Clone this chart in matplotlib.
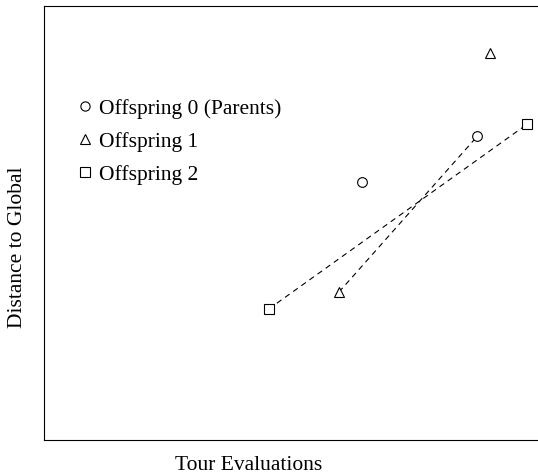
import matplotlib
matplotlib.use("Agg")
import matplotlib.pyplot as plt

# data (arbitrary units, no ticks in the original)
off0_x = [64.4, 87.7]
off0_y = [59.4, 70.0]
off1_x = [90.3, 59.7]
off1_y = [89.2, 34.1]
off2_x = [45.5, 97.8]
off2_y = [30.2, 72.8]
# dashed connectors
link_a_x = [45.5, 97.8]
link_a_y = [30.2, 72.8]
link_b_x = [59.7, 87.7]
link_b_y = [34.1, 70.0]

plt.rcParams['font.family'] = ['Liberation Serif', 'DejaVu Serif']

fig = plt.figure(figsize=(5.38, 4.76), dpi=100)
ax = fig.add_axes([0.0818, 0.0756, 0.9182, 0.9114])

ax.plot(link_a_x, link_a_y, ls=(0, (5, 4)), color="black", lw=0.8)
ax.plot(link_b_x, link_b_y, ls=(0, (5, 4)), color="black", lw=0.8)

mk = dict(ls="none", mfc="white", mec="black", mew=0.8, ms=7)
ax.plot(off0_x, off0_y, marker="o", label="Offspring 0 (Parents)", **mk)
ax.plot(off1_x, off1_y, marker="^", label="Offspring 1", **mk)
ax.plot(off2_x, off2_y, marker="s", label="Offspring 2", **mk)

ax.set_xlim(0, 100)
ax.set_ylim(0, 100)
ax.set_xticks([]); ax.set_yticks([])
ax.spines["right"].set_visible(False)
for s in ["left", "top", "bottom"]:
    ax.spines[s].set_linewidth(0.8)

ax.set_xlabel("Tour Evaluations", fontsize=15.5)
ax.set_ylabel("Distance to Global", fontsize=15.5)
ax.xaxis.set_label_coords(0.414, -0.058)
ax.yaxis.set_label_coords(-0.054, 0.445)
ax.xaxis.label.set_va("center")
ax.yaxis.label.set_va("center")

ax.legend(loc="upper left", bbox_to_anchor=(0.035, 0.822), frameon=False,
          fontsize=15.5, handlelength=0.8, handletextpad=0.25, labelspacing=0.6,
          markerscale=0.95, borderpad=0.2)

plt.savefig("out.png", dpi=100)
